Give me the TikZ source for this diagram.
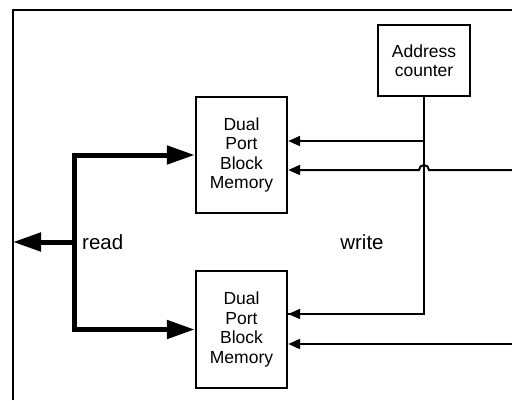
\documentclass[tikz,border=0pt]{standalone}
\usepackage{fontspec}
\setmainfont{Liberation Sans}
\usetikzlibrary{arrows.meta}
\begin{document}
\begin{tikzpicture}[x=1pt,y=-1pt,
  box/.style={draw,line width=2.4pt,align=center,inner sep=0pt,
    font=\fontsize{17.5}{19.5}\selectfont},
  wire/.style={line width=2pt,-{Triangle[length=12pt,width=10pt]}},
  plain/.style={line width=2pt},
  bus/.style={line width=5pt,line join=miter,
    {Triangle[length=28pt,width=18pt]}-{Triangle[length=28pt,width=18pt]}},
  busone/.style={line width=5pt,-{Triangle[length=28pt,width=18pt]}},
  lbl/.style={font=\fontsize{20.5}{22}\selectfont,inner sep=0pt}]
\useasboundingbox (0,0) rectangle (512,400);
% frame
\coordinate (fbl) at (13,400);
\coordinate (ftl) at (13,10);
\coordinate (ftr) at (512,10);
\draw[plain] (fbl) -- (ftl) -- (ftr);
% blocks
\node[box,minimum width=92pt,minimum height=71pt] (addr) at (424,60.5) {Address\\counter};
\node[box,minimum width=91pt,minimum height=116pt] (m1) at (241.5,155) {Dual\\Port\\Block\\Memory};
\node[box,minimum width=91pt,minimum height=117pt] (m2) at (241.5,329.5) {Dual\\Port\\Block\\Memory};
% labels
\node[lbl,anchor=west] (rd) at (82,242) {read};
\node[lbl] (wr) at (362,242) {write};
% read bus
\coordinate (bt) at (74,155);
\coordinate (bm) at (74,242);
\coordinate (lb) at (ftl |- bm);
\draw[bus] (m1.west) -- (bt) |- (m2.west);
\draw[busone] (bm) -- (lb);
% address lines
\coordinate (a1) at ([yshift=14pt]m1.east);
\coordinate (d1) at ([yshift=-15pt]m1.east);
\coordinate (a2) at ([yshift=15.5pt]m2.east);
\coordinate (d2) at ([yshift=-14.5pt]m2.east);
\coordinate (r1) at (512,170);
\coordinate (r2) at (512,344);
\draw[plain] (addr.south) |- (a2);
\draw[wire] (addr.south |- a1) -- (a1);
\draw[wire] (addr.south |- a2) -- (a2);
% data line with hop
\coordinate (hop) at (addr.south |- d1);
\draw[wire] (r1) -- ([xshift=5pt]hop) arc[start angle=0,end angle=180,radius=5pt] -- (d1);
\draw[wire] (r2) -- (d2);
\end{tikzpicture}
\end{document}
